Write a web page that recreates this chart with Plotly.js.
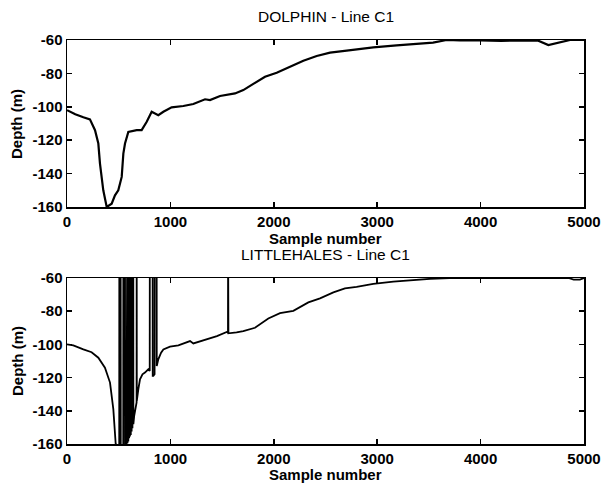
<!DOCTYPE html>
<html>
<head>
<meta charset="utf-8">
<script src="https://cdn.plot.ly/plotly-3.0.1.min.js"></script>
<style>html,body{margin:0;padding:0;background:#fff;}#chart{width:606px;height:483px;}</style>
</head>
<body>
<div id="chart"></div>
<script>
// DOLPHIN - Line C1 (sample number, depth in m)
const dolphinSample = [0,80,158,222,271,303,319,351,384,432,464,496,529,545,561,593,674,722,771,819,883,932,1012,1125,1222,1335,1383,1480,1625,1705,1802,1915,2028,2157,2286,2415,2544,2705,2962,3188,3382,3540,3672,3800,4000,4200,4400,4558,4655,4800,4865,5000];
const dolphinDepth = [-102,-104.5,-106.3,-107.5,-114,-122,-134,-150,-160,-158,-153,-150,-142,-128,-122,-115,-114,-114,-109,-103,-105,-103,-100.3,-99.5,-98.3,-95.5,-96,-93.5,-92,-90,-86.3,-82,-79.6,-76,-72.4,-69.6,-67.6,-66.4,-64.4,-63.2,-62.4,-61.6,-60,-60.3,-60.2,-60.5,-60.3,-60.4,-63,-61,-60,-60];

// LITTLEHALES - Line C1 (sample number, depth in m), with spikes going off the top
const littleSample = [0,61,158,238,303,367,416,448,471,490,505,
  506,519,520,544,545,561,562,576,577,582,583,585,586,590,591,593,594,598,599,601,602,606,607,609,610,614,615,617,618,622,623,625,626,630,631,633,634,641,
  642,650,673,674,675,690,706,730,754,786,800,801,828,829,835,847,848,867,
  868,883,910,932,996,1077,1190,1222,1351,1450,1545,1557,1558,1560,
  1561,1640,1705,1818,1947,2060,2189,2334,2447,2576,2688,2801,2962,3156,3382,3511,3700,3900,4200,4500,4850,4900,4960,5000];
const littleDepth = [-100,-100.6,-103,-104.7,-108,-114,-123,-139,-160,-166,-168,
  -40,-40,-168,-167,-40,-40,-163,-160,-40,-40,-159,-159,-40,-40,-158,-158,-40,-40,-156,-156,-40,-40,-155,-155,-40,-40,-154,-154,-40,-40,-152,-152,-40,-40,-150,-150,-40,-40,
  -148,-143,-135,-40,-134,-127,-121,-118,-117,-115,-116,-40,-40,-119,-119,-118,-40,-40,
  -113,-109,-105,-103,-101.4,-100.6,-98,-99.4,-97,-95,-92.5,-93,-40,-40,
  -93.3,-92.8,-92,-90,-84.4,-81.2,-79.8,-74.7,-72.3,-68.7,-66.2,-65.3,-63.6,-62.2,-61,-60.5,-60,-60,-60,-60,-60,-61,-61,-60];

const xTicks = [0,1000,2000,3000,4000,5000];
const yTicks = [-160,-140,-120,-100,-80,-60];
const titles = ["DOLPHIN - Line C1","LITTLEHALES - Line C1"];
const xLabel = "Sample number";
const yLabel = "Depth (m)";

const FONT = "Liberation Sans, Arial, Helvetica, sans-serif";
const tickFont = {family: FONT, size: 15, color: "#000", weight: 700};

function xa(anchor){
  return {anchor: anchor, range:[0,5000], tickvals: xTicks, ticktext: xTicks.map(String),
    ticks:"inside", ticklen:5, tickwidth:1.5, tickcolor:"#000",
    showline:true, linewidth:1.5, linecolor:"#000", mirror:"ticks",
    showgrid:false, zeroline:false, tickfont: tickFont, fixedrange:true};
}
function ya(anchor, dom){
  return {anchor: anchor, domain: dom, range:[-160,-60], tickvals: yTicks, ticktext: yTicks.map(String),
    ticks:"inside", ticklen:5, tickwidth:1.5, tickcolor:"#000",
    showline:true, linewidth:1.5, linecolor:"#000", mirror:"ticks",
    showgrid:false, zeroline:false, tickfont: tickFont, fixedrange:true};
}

const traces = [
  {x: dolphinSample, y: dolphinDepth, xaxis:"x", yaxis:"y", mode:"lines",
   line:{color:"#000", width:2.2}, hoverinfo:"skip"},
  {x: littleSample, y: littleDepth, xaxis:"x2", yaxis:"y2", mode:"lines",
   line:{color:"#000", width:1.8}, hoverinfo:"skip"}
];

// plot area: x 67..584, y 40..444 (px)
const H = 404;
function py(p){ return (444 - p)/H; }
function px(p){ return (p - 67)/517; }

const ann = [
  {text: titles[0], x:0.5, y:py(17), font:{family:FONT,size:15.5,color:"#000"}},
  {text: xLabel, x:0.5, y:py(238), font:{family:FONT,size:15,color:"#000",weight:700}},
  {text: titles[1], x:0.5, y:py(254), font:{family:FONT,size:15.5,color:"#000"}},
  {text: xLabel, x:0.5, y:py(474), font:{family:FONT,size:15,color:"#000",weight:700}},
  {text: yLabel, x:px(17), y:py(124), textangle:-90, font:{family:FONT,size:15,color:"#000",weight:700}},
  {text: yLabel, x:px(17), y:py(361), textangle:-90, font:{family:FONT,size:15,color:"#000",weight:700}}
].map(a => Object.assign({xref:"paper", yref:"paper", showarrow:false, xanchor:"center", yanchor:"middle"}, a));

const layout = {
  width:606, height:483,
  margin:{l:67, r:22, t:40, b:39},
  paper_bgcolor:"#fff", plot_bgcolor:"#fff",
  showlegend:false,
  xaxis: xa("y"),
  yaxis: ya("x", [py(207), 1]),
  xaxis2: xa("y2"),
  yaxis2: ya("x2", [0, py(278)]),
  annotations: ann
};

Plotly.newPlot("chart", traces, layout, {displayModeBar:false, staticPlot:true});
</script>
</body>
</html>
